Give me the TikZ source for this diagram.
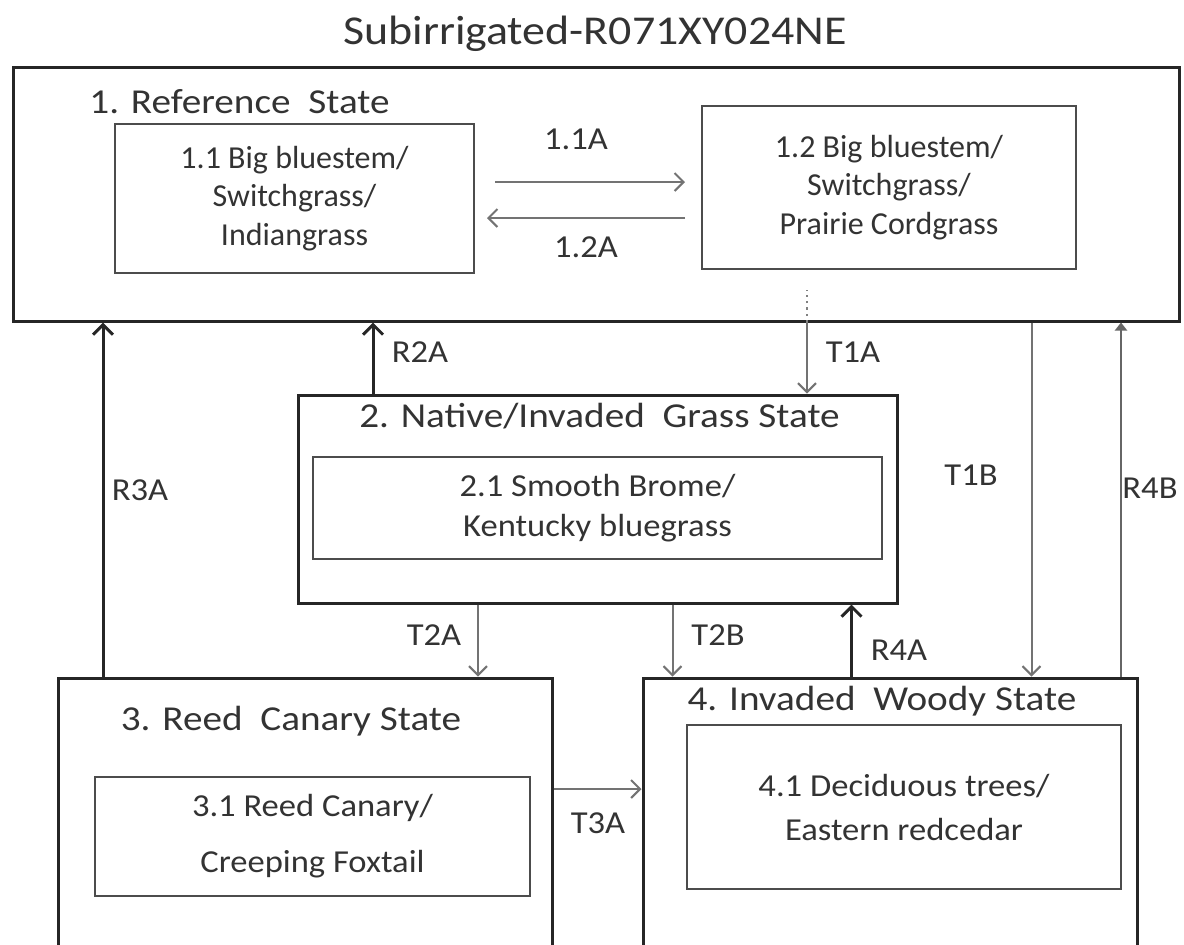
\documentclass[tikz,border=0pt]{standalone}
\usepackage{fontspec}
\setmainfont{Carlito}
\newfontfamily\widefont[FakeStretch=1.12]{Carlito}
\newfontfamily\halfwidefont[FakeStretch=1.08]{Carlito}
\usetikzlibrary{arrows.meta,positioning}
\tikzset{state/.style={rectangle,draw=black!85,line width=1.5pt,inner sep=0pt},
         phase/.style={rectangle,draw=black!70,line width=1pt,inner sep=0pt,align=center,
                       text=black!80,font=\fontsize{16}{19.3}\selectfont},
         state label/.style={inner sep=0pt,anchor=base,text=black!80,font=\widefont\fontsize{17.5}{21}\selectfont},
         edge label/.style={inner sep=0pt,anchor=base,text=black!80,font=\halfwidefont\fontsize{16}{19}\selectfont},
         rest arrow/.style={-{Straight Barb[length=5pt,width=10pt]},line width=1.5pt,draw=black!85},
         trans arrow/.style={-{Straight Barb[length=4.5pt,width=9pt]},line width=1pt,draw=black!55}
}

\begin{document}
\begin{tikzpicture}[x=0.5pt,y=-0.5pt]
\clip (0,0) rectangle (1184,944);
\node[inner sep=0pt,anchor=base,text=black!80,font=\widefont\fontsize{20.5}{24}\selectfont] (title) at (595,44) {Subirrigated-R071XY024NE};

% states
\node[state,minimum width=583pt,minimum height=127pt] (s1) at (596,194) {};
\node[state,minimum width=299.5pt,minimum height=104pt] (s2) at (597.5,499) {};
\node[state,minimum width=247pt,minimum height=141pt] (s3) at (305,819) {};
\node[state,minimum width=247pt,minimum height=141pt] (s4) at (890,819) {};

\node[state label] (s1 name) at (239.5,113) {1. Reference\ \ State};
\node[state label] (s2 name) at (599.5,427) {2. Native/Invaded\ \ Grass State};
\node[state label] (s3 name) at (291,730) {3. Reed\ \ Canary State};
\node[state label] (s4 name) at (882,710) {4. Invaded\ \ Woody State};

% community phases
\node[phase,minimum width=179.5pt,minimum height=74.5pt] (p11) at (294.5,198.5)
    {1.1 Big bluestem/\\Switchgrass/\\Indiangrass};
\node[phase,minimum width=187pt,minimum height=81.5pt] (p12) at (889,187.5)
    {1.2 Big bluestem/\\Switchgrass/\\Prairie Cordgrass};
\node[phase,minimum width=284.5pt,minimum height=51pt,font=\halfwidefont\fontsize{16}{20}\selectfont] (p21) at (597.5,508)
    {2.1 Smooth Brome/\\Kentucky bluegrass};
\node[phase,minimum width=217.5pt,minimum height=59.5pt,font=\halfwidefont\fontsize{16}{28}\selectfont] (p31) at (312.5,836.5)
    {3.1 Reed Canary/\\Creeping Foxtail};
\node[phase,minimum width=217pt,minimum height=82pt,font=\halfwidefont\fontsize{16}{22}\selectfont] (p41) at (904,807)
    {4.1 Deciduous trees/\\Eastern redcedar};

% arrow columns and rows
\coordinate (c r3a) at (103,0);
\coordinate (c r2a) at (373,0);
\coordinate (c t2a) at (478,0);
\coordinate (c t2b) at (672.5,0);
\coordinate (c t1a) at (807,0);
\coordinate (c r4a) at (851.5,0);
\coordinate (c t1b) at (1031.5,0);
\coordinate (c r4b) at (1121,0);
\coordinate (r 11a) at (0,182);
\coordinate (r 12a) at (0,218);
\coordinate (r t3a) at (0,789);

\draw[trans arrow,shorten <=10pt,shorten >=8pt] (p11.east |- r 11a) -- (p12.west |- r 11a);
\draw[trans arrow,shorten <=8pt,shorten >=6pt] (p12.west |- r 12a) -- (p11.east |- r 12a);
\node[edge label] (l11a) at (576,149) {1.1A};
\node[edge label] (l12a) at (586,257) {1.2A};

\draw[line width=1.2pt,draw=black!50,dotted] (s1.south -| c t1a) -- ++(0,-33);
\draw[trans arrow] (s1.south -| c t1a) -- (s2.north -| c t1a);
\draw[trans arrow] (s1.south -| c t1b) -- (s4.north -| c t1b);
\draw[rest arrow] (s2.north -| c r2a) -- (s1.south -| c r2a);
\draw[rest arrow] (s3.north -| c r3a) -- (s1.south -| c r3a);
\draw[-{Triangle[length=4pt,width=6pt]},line width=1pt,draw=black!60] (s4.north -| c r4b) -- (s1.south -| c r4b);
\draw[trans arrow] (s2.south -| c t2a) -- (s3.north -| c t2a);
\draw[trans arrow] (s2.south -| c t2b) -- (s4.north -| c t2b);
\draw[rest arrow] (s4.north -| c r4a) -- (s2.south -| c r4a);
\draw[trans arrow] (s3.east |- r t3a) -- (s4.west |- r t3a);

\node[edge label] (lt1a) at (853,362) {T1A};
\node[edge label] (lr2a) at (420,362) {R2A};
\node[edge label] (lt1b) at (971,485) {T1B};
\node[edge label] (lr4b) at (1150,498) {R4B};
\node[edge label] (lr3a) at (140,500) {R3A};
\node[edge label] (lt2a) at (434,645) {T2A};
\node[edge label] (lt2b) at (718,645) {T2B};
\node[edge label] (lr4a) at (899,660) {R4A};
\node[edge label] (lt3a) at (598,833) {T3A};
\end{tikzpicture}
\end{document}
